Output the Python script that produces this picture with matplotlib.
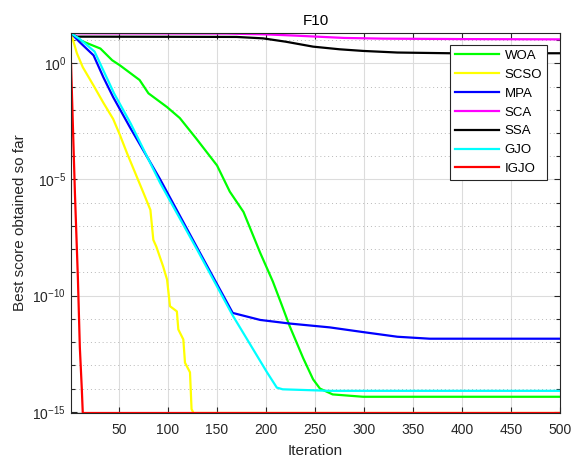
import matplotlib
matplotlib.use("Agg")
import matplotlib.pyplot as plt
from matplotlib.ticker import FixedLocator, LogFormatterSciNotation, NullFormatter

plt.rcParams['font.family'] = ['Liberation Sans', 'DejaVu Sans']
plt.rcParams['mathtext.default'] = 'regular'

# convergence curves (iteration, best score)
woa_it = [1, 10, 31, 43, 51, 71, 80, 99, 112, 129, 150, 163, 177, 194, 207, 216, 224, 238, 248, 255, 268, 299, 500]
woa_val = [19.5, 9.8, 4.3, 1.35, 0.81, 0.19, 0.051, 0.013, 4.4e-3, 5.6e-4, 4.0e-5, 3.0e-6, 4.0e-7, 7.0e-9,
           4.0e-10, 4.0e-11, 5.0e-12, 2.0e-13, 2.5e-14, 1.0e-14, 5.6e-15, 4.44e-15, 4.44e-15]

scso_it = [1, 7, 13, 24, 34, 44, 51, 58, 75, 82, 85, 88, 95, 99, 102, 109, 110.5, 115.6, 117.3, 122.4, 124, 126, 500]
scso_val = [19.5, 2.7, 0.68, 0.11, 0.02, 4.0e-3, 8.0e-4, 1.4e-4, 2.6e-6, 4.9e-7, 2.5e-8, 1.3e-8, 1.8e-9,
            4.9e-10, 3.5e-11, 2.1e-11, 3.5e-12, 1.3e-12, 1.3e-13, 5.0e-14, 1.3e-15, 8.88e-16, 8.88e-16]

mpa_it = [1, 10, 24, 34, 44, 61, 92, 130, 166, 194, 224, 265, 299, 334, 367, 500]
mpa_val = [19.5, 8.0, 2.2, 0.25, 0.035, 1.8e-3, 1.0e-5, 1.1e-8, 1.8e-11, 9.0e-12, 6.3e-12, 4.3e-12,
           2.7e-12, 1.7e-12, 1.4e-12, 1.4e-12]

sca_it = [1, 160, 200, 230, 255, 280, 320, 400, 500]
sca_val = [19.5, 19.0, 17.5, 15.5, 13.8, 12.3, 11.5, 11.0, 10.7]

ssa_it = [1, 3, 7, 100, 170, 197, 220, 248, 275, 299, 334, 388, 500]
ssa_val = [19.5, 17.0, 14.0, 13.8, 13.6, 11.8, 8.5, 5.2, 4.0, 3.4, 2.9, 2.7, 2.7]

gjo_it = [1, 10, 25, 35, 45, 62, 92, 130, 166, 201, 211, 217, 265, 500]
gjo_val = [19.5, 11.0, 3.2, 0.4, 0.05, 2.5e-3, 7.0e-6, 9.0e-9, 1.4e-11, 5.0e-14, 1.1e-14, 9.3e-15,
           7.99e-15, 7.99e-15]

igjo_it = [1, 5, 8, 10, 12, 13, 500]
igjo_val = [1.0, 2.5e-6, 6.0e-10, 6.0e-13, 1.0e-14, 8.88e-16, 8.88e-16]

names = ['WOA', 'SCSO', 'MPA', 'SCA', 'SSA', 'GJO', 'IGJO']
colors = ['#00ff00', '#ffff00', '#0000ff', '#ff00ff', '#000000', '#00ffff', '#ff0000']
series = [(woa_it, woa_val), (scso_it, scso_val), (mpa_it, mpa_val), (sca_it, sca_val),
          (ssa_it, ssa_val), (gjo_it, gjo_val), (igjo_it, igjo_val)]

fig = plt.figure(figsize=(5.75, 4.59), dpi=100)
ax = fig.add_axes([0.1235, 0.1002, 0.8505, 0.8278])

for (it, val), name, c in zip(series, names, colors):
    ax.semilogy(it, val, color=c, lw=1.6, label=name)

ax.set_xlim(1, 500)
ax.set_ylim(8.88e-16, 20)
ax.set_xticks(range(50, 501, 50))
ax.yaxis.set_major_locator(FixedLocator([1e-15, 1e-10, 1e-5, 1e0]))
ax.yaxis.set_major_formatter(LogFormatterSciNotation())
ax.yaxis.set_minor_locator(FixedLocator([10.0 ** e for e in range(-15, 2) if e % 5 != 0]))
ax.yaxis.set_minor_formatter(NullFormatter())

ax.grid(True, which='major', color='#dcdcdc', lw=0.8, ls='-')
ax.yaxis.grid(True, which='minor', color='#b8b8b8', lw=0.7, ls=(0, (1, 3)))
ax.set_axisbelow(True)

ax.tick_params(which='both', direction='in', top=True, right=True, colors='#262626',
               labelsize=10)
ax.tick_params(which='major', length=4.5, width=0.8)
ax.tick_params(which='minor', length=3, width=0.8)
ax.tick_params(axis='x', pad=7)
for s in ax.spines.values():
    s.set_color('#262626')
    s.set_linewidth(0.8)

ax.set_title('F10', fontsize=11, color='#000000', pad=6)
ax.set_xlabel('Iteration', fontsize=11, color='#262626', labelpad=5)
ax.set_ylabel('Best score obtained so far', fontsize=11, color='#262626', labelpad=4)

leg = ax.legend(loc='upper right', bbox_to_anchor=(0.973, 0.968), borderaxespad=0,
                fontsize=9.5, handlelength=3.4, handletextpad=0.4, labelspacing=0.5,
                fancybox=False, framealpha=1, edgecolor='#262626', borderpad=0.35)
leg.get_frame().set_linewidth(0.8)
for t in leg.get_texts():
    t.set_color('#000000')

fig.savefig('out.png', dpi=100)
